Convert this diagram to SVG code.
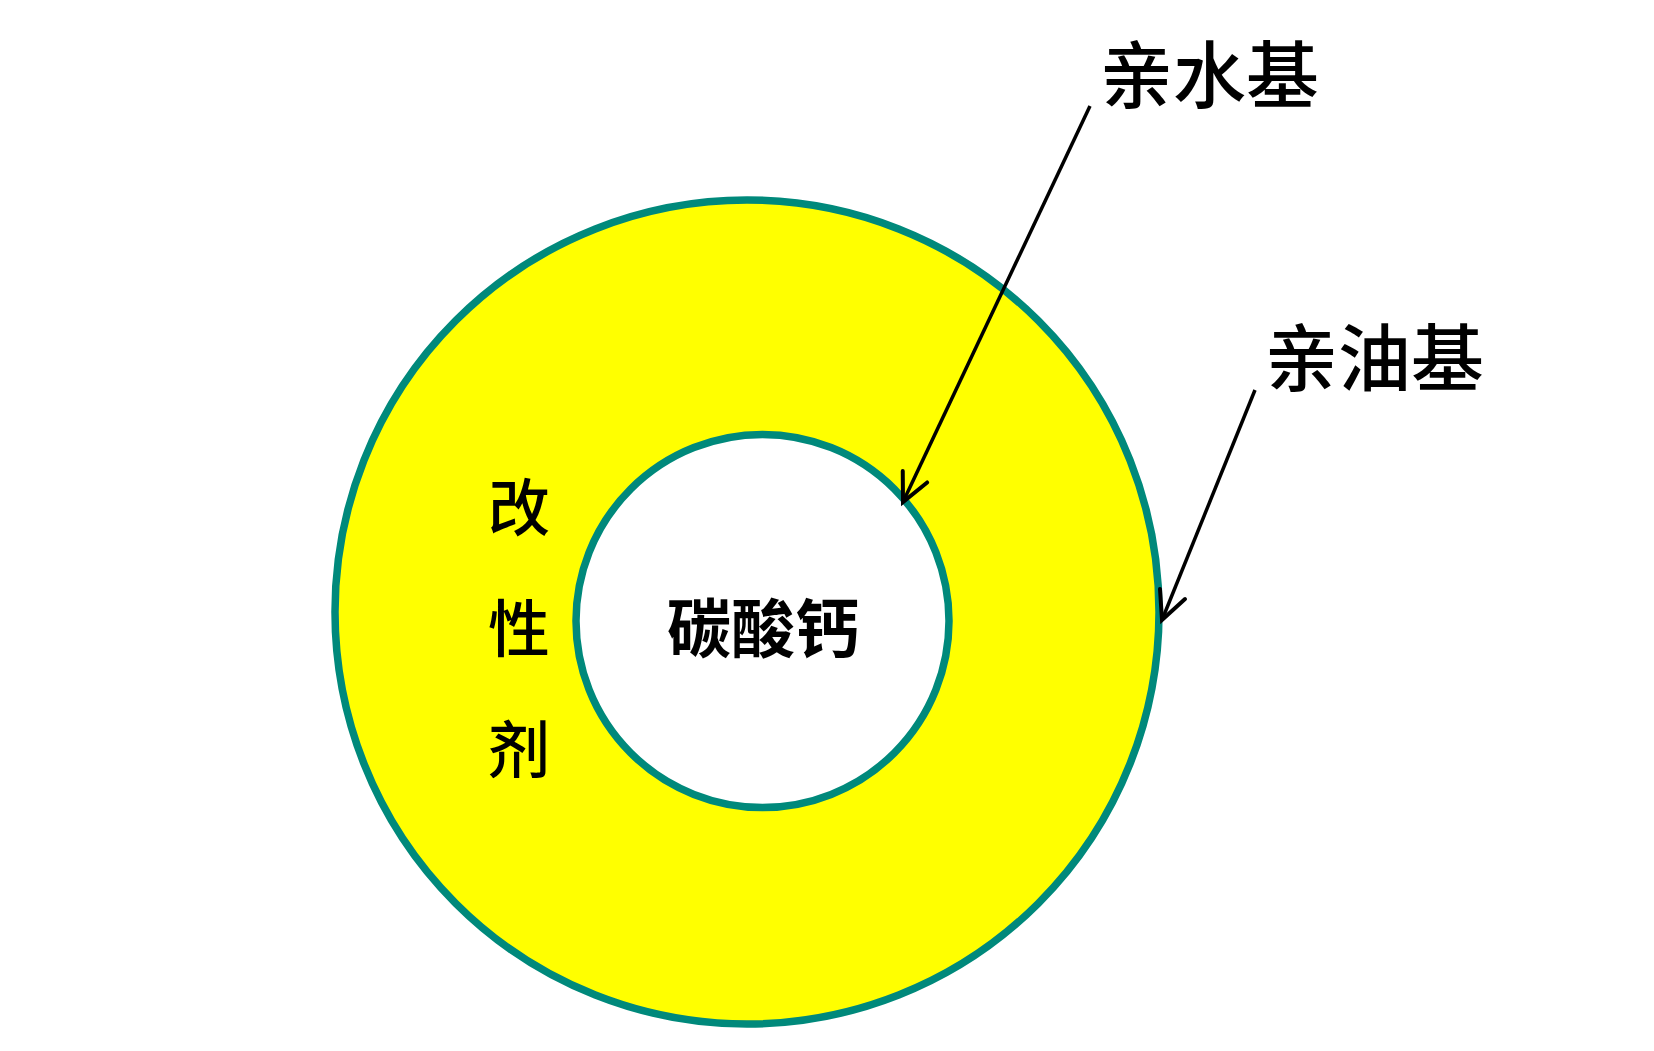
<svg xmlns="http://www.w3.org/2000/svg" width="1654" height="1051" viewBox="0 0 1654 1051">
<defs>
<style>
.ring{stroke:#00897B;stroke-width:7.5}
.lbl{font-family:"Noto Sans CJK SC","Liberation Serif",sans-serif;fill:#000}
.conn{stroke:#000;stroke-width:3.5;fill:none}
</style>
<marker id="arr" markerUnits="userSpaceOnUse" markerWidth="40" markerHeight="40" viewBox="-35 -20 40 40" refX="0" refY="0" orient="auto">
<path d="M-28,-13.5 L0,0 L-28,13.5" fill="none" stroke="#000" stroke-width="4" stroke-linecap="round" stroke-linejoin="miter"/>
</marker>
</defs>
<rect width="1654" height="1051" fill="#fff"/>
<g id="modifier">
<circle class="ring" cx="747" cy="612" r="412" fill="#FFFF00"/>
<text class="lbl" x="519" y="531" font-size="62" font-weight="500" text-anchor="middle">改</text>
<text class="lbl" x="519" y="652" font-size="62" font-weight="500" text-anchor="middle">性</text>
<text class="lbl" x="519" y="773" font-size="62" font-weight="500" text-anchor="middle">剂</text>
</g>
<g id="caco3">
<circle class="ring" cx="762.5" cy="621" r="186.5" fill="#fff"/>
<text class="lbl" x="763" y="652" font-size="64" font-weight="bold" text-anchor="middle">碳酸钙</text>
</g>
<g id="hydrophilic">
<text class="lbl" x="1100" y="102" font-size="73" font-weight="500">亲水基</text>
</g>
<g id="lipophilic">
<text class="lbl" x="1265" y="385" font-size="73" font-weight="500">亲油基</text>
</g>
<g id="connectors">
<line class="conn" x1="1090" y1="106" x2="903" y2="502" marker-end="url(#arr)"/>
<line class="conn" x1="1255" y1="390" x2="1162" y2="620" marker-end="url(#arr)"/>
</g>
</svg>
